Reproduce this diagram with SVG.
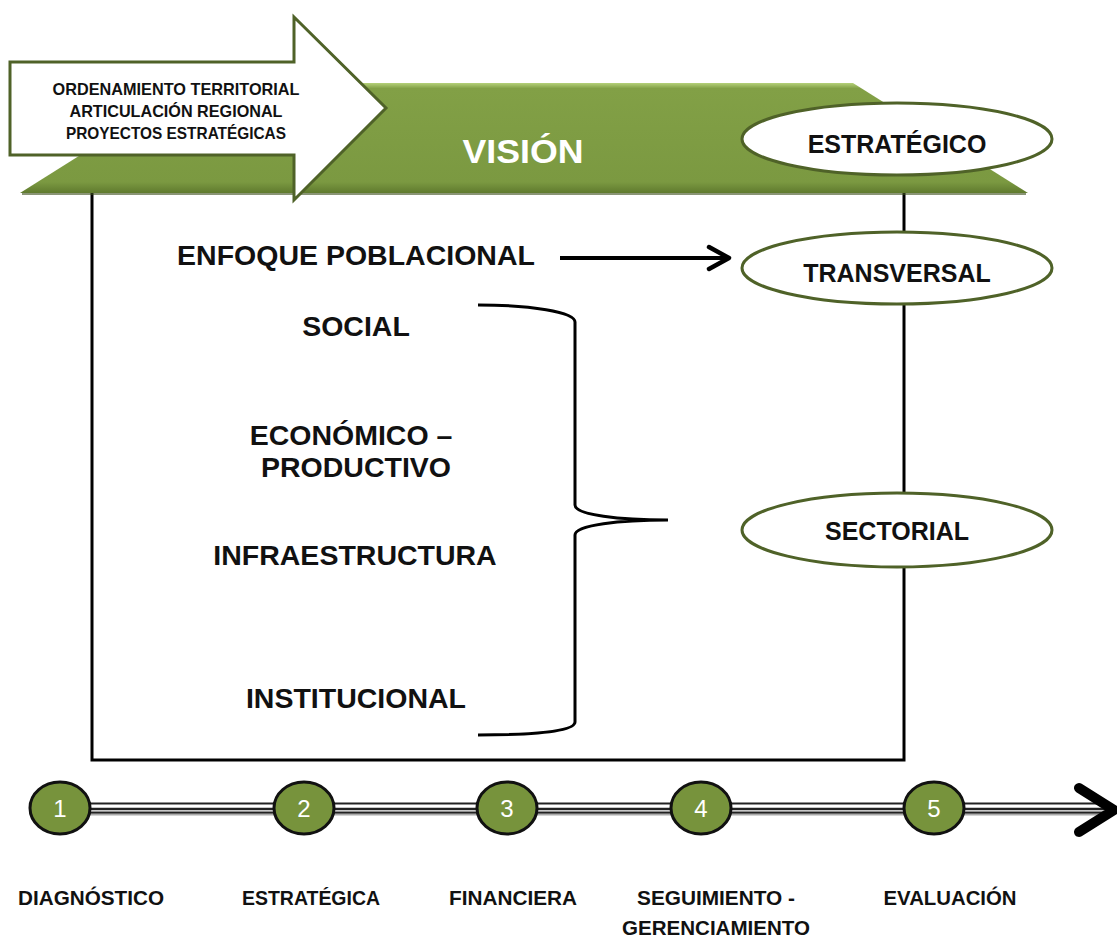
<svg xmlns="http://www.w3.org/2000/svg" width="1117" height="937" viewBox="0 0 1117 937">
<style>
.lbl{font-family:"Liberation Sans",Arial,sans-serif;font-weight:bold;fill:#111;text-anchor:middle}
.big{font-size:28.5px}
.ell{fill:#fff;stroke:#4f6228;stroke-width:3}
.oval{font-size:25px}
.stage{font-size:21px}
.num{font-family:"Liberation Sans",Arial,sans-serif;font-size:24px;fill:#fff;text-anchor:middle}
.dot{fill:#77933c;stroke:#111;stroke-width:3}
.blk{fill:none;stroke:#000;stroke-width:3}
</style>
<defs>
<linearGradient id="gb" x1="0" y1="0" x2="0" y2="1">
<stop offset="0" stop-color="#b5d17a"/>
<stop offset="0.05" stop-color="#82a046"/>
<stop offset="0.9" stop-color="#7b9941"/>
<stop offset="1" stop-color="#5f7a2e"/>
</linearGradient>
</defs>
<rect width="1117" height="937" fill="#fff"/>
<g id="box">
<rect x="92" y="150" width="812" height="610" class="blk"/>
</g>
<g id="vision">
<polygon points="20,193 195,83 853,83 1028,193" fill="url(#gb)"/>
<line x1="22" y1="194" x2="1026" y2="194" stroke="#3d4f1c" stroke-width="2" opacity="0.6"/>
<text x="523" y="163" class="lbl" font-size="33" style="fill:#fff" textLength="121" lengthAdjust="spacingAndGlyphs">VISIÓN</text>
</g>
<g id="arrow-ordenamiento">
<polygon points="10,62 294,62 294,17 386,108 294,200 294,155 10,155" fill="#fff" stroke="#4f6228" stroke-width="3"/>
<text x="176" y="95" class="lbl" font-size="16.5" textLength="247" lengthAdjust="spacingAndGlyphs">ORDENAMIENTO TERRITORIAL</text>
<text x="176" y="117" class="lbl" font-size="16.5" textLength="213" lengthAdjust="spacingAndGlyphs">ARTICULACIÓN REGIONAL</text>
<text x="176" y="139" class="lbl" font-size="16.5" textLength="220" lengthAdjust="spacingAndGlyphs">PROYECTOS ESTRATÉGICAS</text>
</g>
<g id="estrategico">
<ellipse cx="897" cy="139" rx="155" ry="36" class="ell"/>
<text x="897" y="153" class="lbl oval">ESTRATÉGICO</text>
</g>
<g id="transversal">
<ellipse cx="897" cy="268" rx="155" ry="36" class="ell"/>
<text x="897" y="282" class="lbl oval">TRANSVERSAL</text>
</g>
<g id="sectorial">
<ellipse cx="897" cy="530" rx="155" ry="37" class="ell"/>
<text x="897" y="540" class="lbl oval">SECTORIAL</text>
</g>
<g id="left-labels">
<text x="356" y="265" class="lbl big">ENFOQUE POBLACIONAL</text>
<text x="356" y="336" class="lbl big">SOCIAL</text>
<text x="351" y="445" class="lbl big">ECONÓMICO –</text>
<text x="356" y="477" class="lbl big">PRODUCTIVO</text>
<text x="355" y="565" class="lbl big">INFRAESTRUCTURA</text>
<text x="356" y="708" class="lbl big">INSTITUCIONAL</text>
</g>
<g id="connectors">
<line x1="560" y1="258" x2="728" y2="258" stroke="#000" stroke-width="4"/>
<polyline points="709,247 729,258 709,269" fill="none" stroke="#000" stroke-width="4.5" stroke-linecap="round" stroke-linejoin="round"/>
<path d="M478,305 C530,305 575,312 575,322 L575,505 C575,515 620,520 668,520 C620,520 575,525 575,535 L575,722 C575,732 530,735 478,735" class="blk"/>
<line x1="85" y1="810" x2="1106" y2="810" stroke="#aaa" stroke-width="11"/>
<line x1="85" y1="808" x2="1106" y2="808" stroke="#222" stroke-width="11"/>
<line x1="85" y1="808" x2="1106" y2="808" stroke="#fff" stroke-width="7"/>
<line x1="85" y1="809" x2="1106" y2="809" stroke="#222" stroke-width="2.5"/>
<polyline points="1079,788 1114,810 1079,832" fill="none" stroke="#000" stroke-width="10" stroke-linecap="round" stroke-linejoin="round"/>
</g>
<g id="step1"><ellipse cx="60" cy="808" rx="30" ry="26" class="dot"/><text x="60" y="817" class="num">1</text>
<text x="91" y="905" class="lbl stage" textLength="146" lengthAdjust="spacingAndGlyphs">DIAGNÓSTICO</text></g>
<g id="step2"><ellipse cx="304" cy="808" rx="30" ry="26" class="dot"/><text x="304" y="817" class="num">2</text>
<text x="311" y="905" class="lbl stage" textLength="138" lengthAdjust="spacingAndGlyphs">ESTRATÉGICA</text></g>
<g id="step3"><ellipse cx="507" cy="808" rx="30" ry="26" class="dot"/><text x="507" y="817" class="num">3</text>
<text x="513" y="905" class="lbl stage" textLength="128" lengthAdjust="spacingAndGlyphs">FINANCIERA</text></g>
<g id="step4"><ellipse cx="701" cy="808" rx="30" ry="26" class="dot"/><text x="701" y="817" class="num">4</text>
<text x="716" y="905" class="lbl stage" textLength="158" lengthAdjust="spacingAndGlyphs">SEGUIMIENTO -</text>
<text x="716" y="935" class="lbl stage" textLength="188" lengthAdjust="spacingAndGlyphs">GERENCIAMIENTO</text></g>
<g id="step5"><ellipse cx="934" cy="808" rx="30" ry="26" class="dot"/><text x="934" y="817" class="num">5</text>
<text x="950" y="905" class="lbl stage" textLength="133" lengthAdjust="spacingAndGlyphs">EVALUACIÓN</text></g>
</svg>
